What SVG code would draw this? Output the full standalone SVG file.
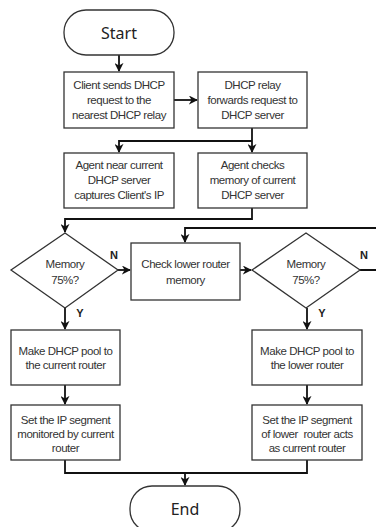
<svg xmlns="http://www.w3.org/2000/svg" width="376" height="527" viewBox="0 0 376 527">
<defs>
<style>
.bx{fill:#fff;stroke:#333;stroke-width:1.3}
.t{font-family:"Liberation Sans",Arial,sans-serif;font-size:11.5px;letter-spacing:-0.45px;fill:#333;text-anchor:middle;white-space:pre}
.tt{font-family:"Noto Sans","Open Sans",sans-serif;font-size:16px;fill:#222;text-anchor:middle}
.lb{font-family:"Liberation Sans",Arial,sans-serif;font-size:11px;font-weight:bold;fill:#222;text-anchor:middle}
.c{fill:none;stroke:#111;stroke-width:1.8}
</style>
<marker id="ah" viewBox="0 0 10 10" refX="9" refY="5" markerWidth="5" markerHeight="5" orient="auto" markerUnits="strokeWidth">
<path d="M0,0 L10,5 L0,10 L3,5 z" fill="#111"/>
</marker>
</defs>
<rect width="376" height="527" fill="#fff"/>

<g id="connectors">
<path class="c" d="M119,55 V71" marker-end="url(#ah)"/>
<path class="c" d="M174,100 H197" marker-end="url(#ah)"/>
<path class="c" d="M252,128 V152" marker-end="url(#ah)"/>
<path class="c" d="M252,141 H119 V152" marker-end="url(#ah)"/>
<path class="c" d="M252,208 V219 H65 V232" marker-end="url(#ah)"/>
<path class="c" d="M118,270 H130" marker-end="url(#ah)"/>
<path class="c" d="M240,270 H251" marker-end="url(#ah)"/>
<path class="c" d="M360,270 H380 V228 H185 V242" marker-end="url(#ah)"/>
<path class="c" d="M65,308 V329" marker-end="url(#ah)"/>
<path class="c" d="M307,308 V329" marker-end="url(#ah)"/>
<path class="c" d="M65,385 V404" marker-end="url(#ah)"/>
<path class="c" d="M307,385 V404" marker-end="url(#ah)"/>
<path class="c" d="M65,460 V473 H307 V460"/>
<path class="c" d="M185,473 V485" marker-end="url(#ah)"/>
<text class="lb" x="114" y="259">N</text>
<text class="lb" x="364" y="259">N</text>
<text class="lb" x="80" y="317">Y</text>
<text class="lb" x="322" y="317">Y</text>
</g>

<g id="start">
<rect class="bx" x="64" y="10" width="110" height="45" rx="22" ry="22"/>
<text class="tt" x="119" y="39">Start</text>
</g>

<g id="client-sends">
<rect class="bx" x="64" y="72" width="110" height="56"/>
<text class="t" x="119" y="89">Client sends DHCP</text>
<text class="t" x="119" y="104">request to the</text>
<text class="t" x="119" y="119">nearest DHCP relay</text>
</g>

<g id="relay-forwards">
<rect class="bx" x="198" y="72" width="109" height="56"/>
<text class="t" x="252.5" y="89">DHCP relay</text>
<text class="t" x="252.5" y="104">forwards request to</text>
<text class="t" x="252.5" y="119">DHCP server</text>
</g>

<g id="agent-captures">
<rect class="bx" x="64" y="153" width="110" height="55"/>
<text class="t" x="119" y="169">Agent near current</text>
<text class="t" x="119" y="184">DHCP server</text>
<text class="t" x="119" y="199">captures Client's IP</text>
</g>

<g id="agent-checks">
<rect class="bx" x="198" y="153" width="109" height="55"/>
<text class="t" x="252.5" y="169">Agent checks</text>
<text class="t" x="252.5" y="184">memory of current</text>
<text class="t" x="252.5" y="199">DHCP server</text>
</g>

<g id="memory1">
<polygon class="bx" points="65,233 118,270 65,308 11,270"/>
<text class="t" x="65" y="268">Memory</text>
<text class="t" x="65" y="284">75%?</text>
</g>

<g id="check-lower">
<rect class="bx" x="131" y="243" width="109" height="57"/>
<text class="t" x="185.5" y="268">Check lower router</text>
<text class="t" x="185.5" y="284">memory</text>
</g>

<g id="memory2">
<polygon class="bx" points="306,233 360,270 306,308 252,270"/>
<text class="t" x="306" y="268">Memory</text>
<text class="t" x="306" y="284">75%?</text>
</g>

<g id="pool-current">
<rect class="bx" x="11" y="330" width="109" height="55"/>
<text class="t" x="65.5" y="355">Make DHCP pool to</text>
<text class="t" x="65.5" y="369">the current router</text>
</g>

<g id="pool-lower">
<rect class="bx" x="252" y="330" width="110" height="55"/>
<text class="t" x="307" y="355">Make DHCP pool to</text>
<text class="t" x="307" y="369">the lower router</text>
</g>

<g id="segment-current">
<rect class="bx" x="11" y="405" width="109" height="55"/>
<text class="t" x="65.5" y="424">Set the IP segment</text>
<text class="t" x="65.5" y="438">monitored by current</text>
<text class="t" x="65.5" y="452">router</text>
</g>

<g id="segment-lower">
<rect class="bx" x="252" y="405" width="110" height="55"/>
<text class="t" x="307" y="424">Set the IP segment</text>
<text class="t" x="307" y="438">of lower  router acts</text>
<text class="t" x="307" y="452">as current router</text>
</g>

<g id="end">
<rect class="bx" x="130" y="486" width="110" height="46" rx="22" ry="22"/>
<text class="tt" x="185" y="515">End</text>
</g>
</svg>
